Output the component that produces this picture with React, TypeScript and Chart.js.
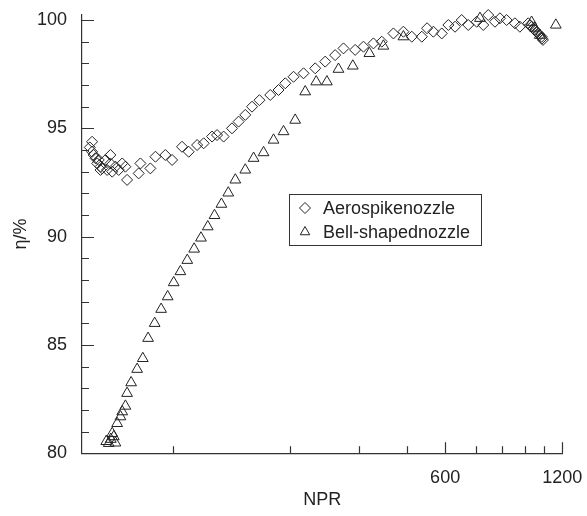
import React, { useEffect, useRef } from 'react';
import { Chart, registerables } from 'chart.js';
import { drawPoint } from 'chart.js/helpers';

Chart.register(...registerables);

const SERIES_NAMES = ['Aerospikenozzle', 'Bell-shapednozzle'];

const AERO_X = [
  73.3, 74.3, 74.3, 75.0, 75.8, 76.6, 77.3, 78.1, 78.1, 78.9, 80.4, 81.2, 82.8, 82.8, 83.7,
  85.3, 87.0, 88.8, 90.5, 91.4, 97.9, 98.9, 104.9, 108.1, 114.6, 119.3, 126.5, 131.6, 138.3,
  143.8, 151.1, 155.6, 161.8, 170.0, 176.8, 183.9, 191.4, 200.0, 213.2, 223.9, 233.0, 244.7,
  259.6, 278.2, 295.1, 313.0, 328.8, 352.3, 370.0, 392.5, 412.4, 441.8, 468.7, 492.5, 522.7,
  539.2, 559.6, 588.1, 611.5, 636.2, 661.7, 688.0, 723.0, 751.8, 774.3, 805.7, 829.7, 863.2,
  906.6, 933.7, 980.7, 990, 1000.6, 1010, 1020, 1030, 1040.6, 1050, 1061.7, 1065, 1070,
];
const AERO_Y = [
  94.12, 94.38, 93.92, 93.77, 93.62, 93.38, 93.54, 93.23, 93.08, 93.15, 93.54, 93.08, 93.38, 93.77, 93.0,
  93.23, 93.08, 93.38, 93.23, 92.62, 92.92, 93.38, 93.15, 93.69, 93.77, 93.54, 94.15, 93.92, 94.23,
  94.31, 94.62, 94.69, 94.62, 95.0, 95.31, 95.62, 96.0, 96.3, 96.54, 96.77, 97.08, 97.38,
  97.54, 97.77, 98.08, 98.38, 98.69, 98.62, 98.77, 98.92, 99.0, 99.38, 99.46, 99.23, 99.23,
  99.62, 99.46, 99.38, 99.77, 99.69, 100.0, 99.77, 99.92, 99.77, 100.23, 99.92, 100.08, 100.0,
  99.85, 99.69, 99.85, 99.75, 99.69, 99.6, 99.54, 99.45, 99.38, 99.3, 99.23, 99.15, 99.08,
];

const BELL_X = [
  80.8, 82.0, 83.0, 83.7, 84.5, 85.3, 86.2, 87.9, 88.8, 90.5, 91.4, 93.6, 97.0, 100.3, 103.5,
  107.6, 111.8, 116.2, 120.4, 125.3, 130.5, 135.9, 141.5, 147.3, 153.3, 159.7, 166.3, 173.4,
  183.9, 193.2, 204.9, 217.4, 230.6, 247.1, 262.2, 279.8, 298.1, 319.2, 347.5, 383.3, 416.4,
  468.7, 737.3, 1000.6, 1020, 1050, 1155,
];
const BELL_Y = [
  80.55, 80.46, 80.65, 80.92, 80.77, 80.48, 81.38, 81.69, 81.92, 82.18, 82.77, 83.26, 83.88, 84.38, 85.31,
  86.0, 86.65, 87.23, 87.88, 88.39, 88.91, 89.43, 89.94, 90.46, 90.98, 91.5, 92.02, 92.62,
  93.08, 93.62, 93.88, 94.46, 94.85, 95.38, 96.69, 97.15, 97.15, 97.73, 97.88, 98.46, 98.8,
  99.23, 100.08, 99.9, 99.63, 99.3, 99.77,
];

const X_TICKS = [120, 240, 360, 480, 600, 720, 840, 960, 1080, 1200];
const X_LABELED = [600, 1200];
const Y_TICKS = [80, 81, 82, 83, 84, 85, 86, 87, 88, 89, 90, 91, 92, 93, 94, 95, 96, 97, 98, 99, 100];
const Y_LABELED = [80, 85, 90, 95, 100];

const INK = '#222';
const AXIS = '#333';
const FONT = "'Liberation Sans', Arial, Helvetica, sans-serif";

const POINT_STYLES = ['rectRot', 'triangle'];
const POINT_RADII = [5.5, 6.2];

const innerTicks = {
  id: 'innerTicks',
  afterDraw(chart: any) {
    const { ctx, chartArea, scales } = chart;
    const x = scales.x;
    const y = scales.y;
    ctx.save();
    ctx.strokeStyle = AXIS;
    ctx.lineWidth = 1.2;
    ctx.beginPath();
    Y_TICKS.forEach((v) => {
      const py = Math.round(y.getPixelForValue(v)) + 0.5;
      const len = Y_LABELED.includes(v) ? 12 : 7;
      ctx.moveTo(chartArea.left, py);
      ctx.lineTo(chartArea.left + len, py);
    });
    X_TICKS.forEach((v) => {
      const px = Math.round(x.getPixelForValue(v)) + 0.5;
      const len = X_LABELED.includes(v) ? 11 : 7;
      ctx.moveTo(px, chartArea.bottom);
      ctx.lineTo(px, chartArea.bottom - len);
    });
    ctx.stroke();
    ctx.restore();
  },
};

const boxLegend = {
  id: 'boxLegend',
  afterDraw(chart: any) {
    const { ctx } = chart;
    ctx.save();
    ctx.strokeStyle = AXIS;
    ctx.lineWidth = 1;
    ctx.strokeRect(289.5, 194.5, 192, 51);
    ctx.font = `18px ${FONT}`;
    ctx.textBaseline = 'middle';
    ctx.textAlign = 'left';
    chart.data.datasets.forEach((ds: any, i: number) => {
      const cy = 208 + i * 24;
      ctx.fillStyle = 'rgba(0,0,0,0)';
      ctx.strokeStyle = INK;
      ctx.lineWidth = 1;
      drawPoint(ctx, { pointStyle: POINT_STYLES[i], radius: 5.5, borderWidth: 1, rotation: 0 } as any, 305, cy);
      ctx.fillStyle = INK;
      ctx.fillText(ds.label, 323, cy + 1);
    });
    ctx.restore();
  },
};

export default function App() {
  const ref = useRef<HTMLCanvasElement | null>(null);

  useEffect(() => {
    if (!ref.current) return;
    Chart.defaults.font.family = FONT;
    const makeSet = (i: number, xs: number[], ys: number[]) => ({
      label: SERIES_NAMES[i],
      data: xs.map((x, k) => ({ x, y: ys[k] })),
      pointStyle: POINT_STYLES[i],
      pointRadius: POINT_RADII[i],
      pointHoverRadius: POINT_RADII[i],
      pointBorderColor: INK,
      pointBackgroundColor: 'rgba(0,0,0,0)',
      pointBorderWidth: 1,
      showLine: false,
      clip: false as any,
    });
    const chart = new Chart(ref.current, {
      type: 'scatter',
      data: {
        datasets: [makeSet(0, AERO_X, AERO_Y), makeSet(1, BELL_X, BELL_Y)] as any,
      },
      options: {
        animation: false,
        responsive: false,
        devicePixelRatio: 1,
        layout: { padding: { top: 14.6, right: 24.7, left: 0, bottom: 0 } },
        plugins: { legend: { display: false }, tooltip: { enabled: false } },
        scales: {
          x: {
            type: 'logarithmic',
            min: 70,
            max: 1200,
            afterBuildTicks: (s: any) => {
              s.ticks = X_TICKS.map((v) => ({ value: v }));
            },
            afterFit: (s: any) => {
              s.height = 62.7;
              s.paddingLeft = 0;
              s.paddingRight = 0;
            },
            grid: { display: false, drawTicks: false },
            border: { display: true, color: AXIS, width: 1.2 },
            ticks: {
              autoSkip: false,
              maxRotation: 0,
              padding: 14,
              color: INK,
              font: { size: 18 },
              callback: (v: any) => (X_LABELED.includes(Number(v)) ? String(v) : ''),
            },
            title: {
              display: true,
              text: 'NPR',
              color: INK,
              font: { size: 18 },
              padding: { top: 0, bottom: 5 },
            },
          },
          y: {
            type: 'linear',
            min: 80,
            max: 100.25,
            afterBuildTicks: (s: any) => {
              s.ticks = Y_TICKS.map((v) => ({ value: v }));
            },
            afterFit: (s: any) => {
              s.width = 82;
              s.paddingTop = 0;
              s.paddingBottom = 0;
            },
            grid: { display: false, drawTicks: false },
            border: { display: true, color: AXIS, width: 1.2 },
            ticks: {
              autoSkip: false,
              padding: 15,
              color: INK,
              font: { size: 18 },
              callback: (v: any) => (Y_LABELED.includes(Number(v)) ? String(v) : ''),
            },
            title: {
              display: true,
              text: 'η/%',
              color: INK,
              font: { size: 18 },
              padding: { top: 10, bottom: 0 },
            },
          },
        },
      } as any,
      plugins: [innerTicks, boxLegend],
    });
    return () => chart.destroy();
  }, []);

  return (
    <div style={{ position: 'fixed', left: 0, top: 0, width: 587, height: 516, background: '#fff' }}>
      <canvas ref={ref} width={587} height={516} style={{ display: 'block' }} />
    </div>
  );
}
